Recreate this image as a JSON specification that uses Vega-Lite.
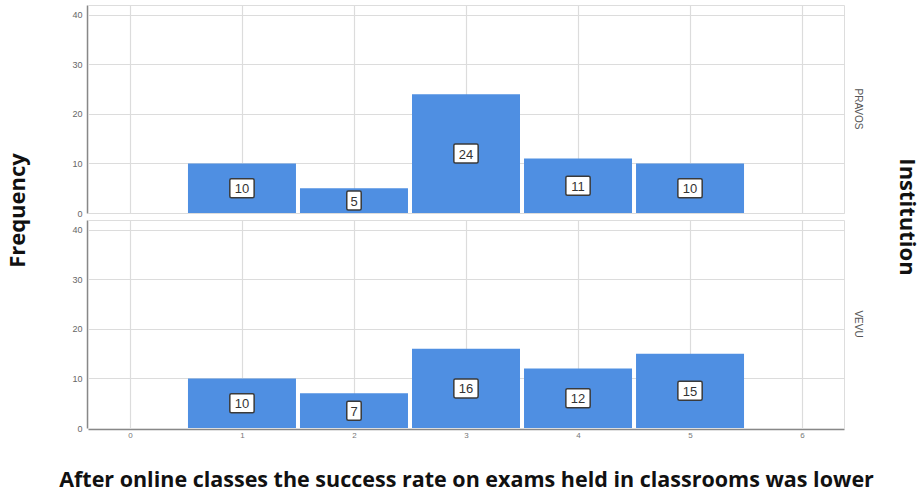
{
  "$schema": "https://vega.github.io/schema/vega-lite/v6.json",
  "padding": {"left": 6, "top": 4, "right": 0, "bottom": 0},
  "background": "white",
  "title": {
    "text": "Frequency",
    "orient": "left",
    "anchor": "middle",
    "font": "Open Sans",
    "fontSize": 22,
    "fontWeight": "bold",
    "color": "#111",
    "offset": 29,
    "dx": 37
  },
  "data": {
    "values": [
      {"institution": "PRAVOS", "score": 1, "count": 10},
      {"institution": "PRAVOS", "score": 2, "count": 5},
      {"institution": "PRAVOS", "score": 3, "count": 24},
      {"institution": "PRAVOS", "score": 4, "count": 11},
      {"institution": "PRAVOS", "score": 5, "count": 10},
      {"institution": "VEVU", "score": 1, "count": 10},
      {"institution": "VEVU", "score": 2, "count": 7},
      {"institution": "VEVU", "score": 3, "count": 16},
      {"institution": "VEVU", "score": 4, "count": 12},
      {"institution": "VEVU", "score": 5, "count": 15}
    ]
  },
  "facet": {
    "row": {
      "field": "institution",
      "type": "nominal",
      "title": "Institution",
      "header": {
        "labelOrient": "right",
        "labelAngle": 90,
        "labelFont": "Liberation Sans",
        "labelFontSize": 10,
        "labelColor": "#555",
        "labelPadding": 8,
        "titleOrient": "right",
        "titleAngle": 90,
        "titleFont": "Open Sans",
        "titleFontSize": 22,
        "titleFontWeight": "bold",
        "titleColor": "#111",
        "titlePadding": 22
      }
    }
  },
  "spacing": 5,
  "spec": {
    "width": 756,
    "height": 208,
    "encoding": {
      "x": {
        "field": "score",
        "type": "quantitative",
        "scale": {"domain": [-0.33, 6.33], "nice": false, "zero": false},
        "axis": {
          "values": [0, 1, 2, 3, 4, 5, 6],
          "title": "After online classes the success rate on exams held in classrooms was lower",
          "titleFont": "Open Sans",
          "titleFontSize": 21.5,
          "titleFontWeight": "bold",
          "titleColor": "#111",
          "titlePadding": 30,
          "labelFont": "Liberation Sans",
          "labelFontSize": 8,
          "labelColor": "#777",
          "labelPadding": 2,
          "ticks": false,
          "domainColor": "#888",
          "domainWidth": 1.5,
          "gridColor": "#dcdcdc",
          "gridWidth": 1.2
        }
      }
    },
    "layer": [
      {
        "mark": {"type": "bar", "color": "#4f8fe2", "width": 108},
        "encoding": {
          "y": {
            "field": "count",
            "type": "quantitative",
            "scale": {"domain": [0, 42], "nice": false},
            "axis": {
              "values": [0, 10, 20, 30, 40],
              "title": null,
              "labelFont": "Liberation Sans",
              "labelFontSize": 9,
              "labelColor": "#666",
              "labelPadding": 5,
              "ticks": false,
              "domainColor": "#888",
              "domainWidth": 1.5,
              "gridColor": "#dcdcdc",
              "gridWidth": 1.2
            }
          }
        }
      },
      {
        "mark": {"type": "point", "filled": true, "fill": "white", "stroke": "#3a3a3a", "strokeWidth": 1.5, "opacity": 1, "size": 361},
        "encoding": {
          "y": {"value": {"expr": "(scale('y', 0) + scale('y', datum.count)) / 2"}},
          "shape": {
            "condition": {"test": "datum.count >= 10", "value": "M-1.12,-1 H1.12 Q1.28,-1 1.28,-0.84 V0.84 Q1.28,1 1.12,1 H-1.12 Q-1.28,1 -1.28,0.84 V-0.84 Q-1.28,-1 -1.12,-1 Z"},
            "value": "M-0.6,-1 H0.6 Q0.76,-1 0.76,-0.84 V0.84 Q0.76,1 0.6,1 H-0.6 Q-0.76,1 -0.76,0.84 V-0.84 Q-0.76,-1 -0.6,-1 Z"
          }
        }
      },
      {
        "mark": {"type": "text", "font": "Liberation Sans", "fontSize": 13, "color": "#333", "baseline": "middle", "align": "center", "dy": 1},
        "encoding": {
          "y": {"value": {"expr": "(scale('y', 0) + scale('y', datum.count)) / 2"}},
          "text": {"field": "count", "type": "quantitative"}
        }
      }
    ]
  }
}
